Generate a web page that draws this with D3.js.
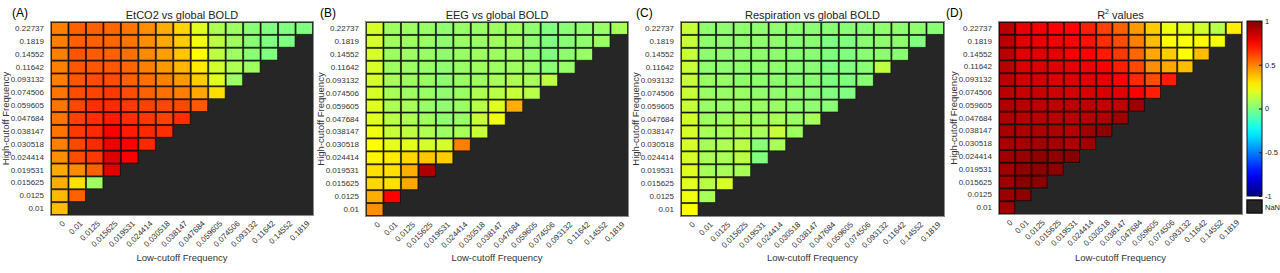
<!DOCTYPE html>
<html>
<head>
<meta charset="utf-8">
<script src="https://cdn.jsdelivr.net/npm/d3@7"></script>
<style>
  body { margin: 0; background: #fff; font-family: "Liberation Sans", Arial, sans-serif; }
</style>
</head>
<body>
<div id="chart"></div>
<script>
// tick labels
const lowCut = ["0", "0.01", "0.0125", "0.015625", "0.019531", "0.024414", "0.030518", "0.038147",
    "0.047684", "0.059605", "0.074506", "0.093132", "0.11642", "0.14552", "0.1819"]
// bottom to top
const highCut = ["0.01", "0.0125", "0.015625", "0.019531", "0.024414", "0.030518", "0.038147", "0.047684",
    "0.059605", "0.074506", "0.093132", "0.11642", "0.14552", "0.1819", "0.22737"]

// rows listed from the top row (0.22737) down to 0.01, first value = low-cutoff 0
const etco2 = [
    [0.5, 0.56, 0.56, 0.55, 0.52, 0.47, 0.41, 0.33, 0.19, 0.09, 0.06, 0.02, 0.0, 0.0, 0.0],
    [0.5, 0.56, 0.56, 0.55, 0.52, 0.47, 0.42, 0.35, 0.23, 0.12, 0.06, 0.02, 0.0, 0.0],
    [0.5, 0.58, 0.57, 0.56, 0.53, 0.48, 0.44, 0.36, 0.25, 0.12, 0.06, 0.02, 0.0],
    [0.5, 0.58, 0.58, 0.58, 0.55, 0.5, 0.45, 0.39, 0.29, 0.16, 0.09, 0.06],
    [0.5, 0.58, 0.6, 0.6, 0.56, 0.53, 0.5, 0.45, 0.35, 0.19, 0.06],
    [0.52, 0.6, 0.62, 0.64, 0.6, 0.56, 0.53, 0.5, 0.42, 0.31],
    [0.52, 0.61, 0.66, 0.67, 0.64, 0.62, 0.61, 0.61, 0.58],
    [0.52, 0.62, 0.66, 0.7, 0.66, 0.64, 0.62, 0.66],
    [0.52, 0.64, 0.67, 0.75, 0.7, 0.67, 0.66],
    [0.5, 0.61, 0.67, 0.78, 0.75, 0.67],
    [0.47, 0.6, 0.64, 0.81, 0.75],
    [0.42, 0.48, 0.56, 0.8],
    [0.41, 0.31, 0.06],
    [0.39, 0.56],
    [0.38]
]

const eeg = [
    [0.17, 0.06, 0.06, 0.05, 0.03, 0.05, 0.05, 0.06, 0.06, 0.03, 0.0, 0.02, 0.03, 0.05, 0.08],
    [0.17, 0.06, 0.06, 0.05, 0.03, 0.05, 0.05, 0.06, 0.06, 0.03, 0.0, 0.02, 0.03, 0.05],
    [0.17, 0.06, 0.06, 0.05, 0.03, 0.05, 0.06, 0.06, 0.06, 0.03, 0.0, 0.03, 0.05],
    [0.17, 0.06, 0.06, 0.05, 0.03, 0.05, 0.06, 0.06, 0.06, 0.05, 0.02, 0.05],
    [0.17, 0.08, 0.06, 0.05, 0.03, 0.05, 0.06, 0.08, 0.09, 0.08, 0.12],
    [0.17, 0.08, 0.06, 0.05, 0.03, 0.05, 0.09, 0.11, 0.14, 0.11],
    [0.19, 0.09, 0.08, 0.05, 0.03, 0.05, 0.11, 0.19, 0.41],
    [0.19, 0.11, 0.09, 0.06, 0.03, 0.05, 0.14, 0.22],
    [0.22, 0.14, 0.12, 0.09, 0.06, 0.08, 0.14],
    [0.25, 0.2, 0.2, 0.17, 0.17, 0.5],
    [0.27, 0.29, 0.33, 0.36, 0.35],
    [0.31, 0.31, 0.41, 0.91],
    [0.33, 0.31, 0.42],
    [0.41, 0.75],
    [0.47]
]

const respiration = [
    [0.14, 0.03, 0.03, 0.03, 0.03, 0.03, 0.03, 0.02, 0.02, 0.02, 0.02, 0.03, 0.03, 0.03, 0.02],
    [0.14, 0.03, 0.03, 0.03, 0.03, 0.03, 0.02, 0.02, 0.0, 0.0, 0.02, 0.03, 0.03, 0.0],
    [0.14, 0.03, 0.03, 0.03, 0.03, 0.03, 0.02, 0.02, 0.0, 0.0, 0.02, 0.03, 0.02],
    [0.14, 0.03, 0.03, 0.03, 0.03, 0.03, 0.02, 0.02, 0.0, 0.0, 0.02, 0.12],
    [0.14, 0.05, 0.05, 0.03, 0.03, 0.03, 0.02, 0.02, 0.0, 0.0, 0.02],
    [0.14, 0.05, 0.05, 0.05, 0.03, 0.03, 0.03, 0.02, 0.0, 0.0],
    [0.14, 0.05, 0.05, 0.05, 0.05, 0.05, 0.03, 0.03, 0.02],
    [0.16, 0.06, 0.06, 0.08, 0.06, 0.08, 0.05, 0.08],
    [0.17, 0.08, 0.08, 0.09, 0.08, 0.14, 0.06],
    [0.17, 0.08, 0.09, 0.11, 0.02, 0.08],
    [0.17, 0.08, 0.08, 0.11, 0.0],
    [0.19, 0.08, 0.08, 0.08],
    [0.19, 0.11, 0.17],
    [0.22, 0.08],
    [0.25]
]

const rSquared = [
    [0.89, 0.79, 0.77, 0.75, 0.74, 0.69, 0.62, 0.56, 0.45, 0.35, 0.22, 0.19, 0.16, 0.11, 0.28],
    [0.89, 0.8, 0.79, 0.77, 0.75, 0.72, 0.66, 0.6, 0.5, 0.38, 0.25, 0.24, 0.26, 0.23],
    [0.89, 0.81, 0.81, 0.8, 0.77, 0.75, 0.7, 0.64, 0.55, 0.42, 0.35, 0.25, 0.38],
    [0.89, 0.82, 0.82, 0.81, 0.8, 0.78, 0.75, 0.69, 0.61, 0.47, 0.42, 0.38],
    [0.89, 0.84, 0.84, 0.82, 0.82, 0.81, 0.8, 0.75, 0.67, 0.6, 0.7],
    [0.89, 0.86, 0.86, 0.84, 0.84, 0.83, 0.83, 0.8, 0.75, 0.69],
    [0.91, 0.89, 0.88, 0.88, 0.88, 0.88, 0.87, 0.87, 0.94],
    [0.91, 0.89, 0.89, 0.89, 0.89, 0.9, 0.91, 0.94],
    [0.92, 0.91, 0.91, 0.91, 0.89, 0.94, 0.97],
    [0.92, 0.92, 0.93, 0.93, 0.91, 0.94],
    [0.94, 0.95, 0.97, 0.97, 0.98],
    [0.94, 0.97, 0.98, 0.98],
    [0.94, 0.98, 0.98],
    [0.95, 0.97],
    [0.94]
]

const panelLabels = ["(A)", "(B)", "(C)", "(D)"]
const panelTitles = ["EtCO2 vs global BOLD", "EEG vs global BOLD", "Respiration vs global BOLD", "R2 values"]
const colorTicks = [1, 0.5, 0, -0.5, -1]

const width = 1280, height = 273

const svg = d3.select("#chart")
    .append("svg")
    .attr("width", width)
    .attr("height", height)

// jet colormap, value in [-1, 1]
function jet(v) {
    const t = (v + 1) / 2
    const c = x => Math.round(255 * Math.max(0, Math.min(1, 1.5 - Math.abs(4 * t - x))))
    return `rgb(${c(3)},${c(2)},${c(1)})`
}

// plot boxes [left, right, top, bottom], label x
const boxes = [
    { x0: 51, x1: 313, y0: 22, y1: 215, lx: 12 },
    { x0: 366, x1: 628, y0: 22, y1: 216, lx: 320 },
    { x0: 681, x1: 944, y0: 22, y1: 216, lx: 636 },
    { x0: 999, x1: 1242, y0: 22, y1: 214, lx: 946 }
]
const datasets = [etco2, eeg, respiration, rSquared]

datasets.forEach(function (rows, p) {
    const b = boxes[p]
    const x = d3.scaleBand().domain(lowCut).range([b.x0, b.x1])
    const y = d3.scaleBand().domain(highCut.slice().reverse()).range([b.y0, b.y1])

    const g = svg.append("g")

    // NaN background
    g.append("rect")
        .attr("x", b.x0).attr("y", b.y0)
        .attr("width", b.x1 - b.x0).attr("height", b.y1 - b.y0)
        .attr("fill", "#262626")

    const cells = []
    rows.forEach(function (row, r) {
        row.forEach(function (v, l) {
            cells.push({ hi: highCut[14 - r], lo: lowCut[l], v: v })
        })
    })

    g.selectAll("rect.cell")
        .data(cells)
        .enter()
        .append("rect")
        .attr("class", "cell")
        .attr("x", d => x(d.lo) + 0.5)
        .attr("y", d => y(d.hi) + 0.5)
        .attr("width", x.bandwidth() - 1)
        .attr("height", y.bandwidth() - 1)
        .attr("fill", d => jet(d.v))
        .attr("stroke", "rgba(0,0,0,0.6)")
        .attr("stroke-width", 1)

    // frame
    g.append("rect")
        .attr("x", b.x0 - 0.5).attr("y", b.y0 - 0.5)
        .attr("width", b.x1 - b.x0 + 1).attr("height", b.y1 - b.y0 + 1)
        .attr("fill", "none")
        .attr("stroke", "#8c8c8c")

    // y axis
    const ya = g.append("g")
        .attr("transform", `translate(${b.x0},0)`)
        .call(d3.axisLeft(y).tickSize(0).tickPadding(7))
    ya.select(".domain").remove()
    ya.selectAll("text")
        .attr("font-size", 8)
        .attr("font-family", "Liberation Sans, Arial, sans-serif")
        .attr("fill", "#333")

    // x axis
    const xa = g.append("g")
        .attr("transform", `translate(0,${b.y1})`)
        .call(d3.axisBottom(x).tickSize(0))
    xa.select(".domain").remove()
    xa.selectAll("text")
        .attr("x", 0).attr("y", 0).attr("dy", "0.35em")
        .attr("text-anchor", "end")
        .attr("transform", "translate(4,7) rotate(-45)")
        .attr("font-size", 8)
        .attr("font-family", "Liberation Sans, Arial, sans-serif")
        .attr("fill", "#333")

    // axis titles
    g.append("text")
        .attr("x", (b.x0 + b.x1) / 2)
        .attr("y", 261)
        .attr("text-anchor", "middle")
        .attr("font-size", 9.5)
        .attr("fill", "#333")
        .text("Low-cutoff Frequency")

    g.append("text")
        .attr("transform", `translate(${b.x0 - 42},${(b.y0 + b.y1) / 2}) rotate(-90)`)
        .attr("text-anchor", "middle")
        .attr("font-size", 9.5)
        .attr("fill", "#333")
        .text("High-cutoff Frequency")

    // title
    const title = g.append("text")
        .attr("x", (b.x0 + b.x1) / 2)
        .attr("y", 19)
        .attr("text-anchor", "middle")
        .attr("font-size", 11)
        .attr("fill", "#222")
    if (p === 3) {
        title.append("tspan").text("R")
        title.append("tspan").attr("font-size", 7).attr("dy", -5).text("2")
        title.append("tspan").attr("dy", 5).text(" values")
    } else {
        title.text(panelTitles[p])
    }

    // panel label
    svg.append("text")
        .attr("x", b.lx)
        .attr("y", 17)
        .attr("font-size", 12)
        .attr("fill", "#000")
        .text(panelLabels[p])
})

// colorbar
const cb = { x: 1247, w: 15, y0: 21, y1: 196 }
const defs = svg.append("defs")
const grad = defs.append("linearGradient")
    .attr("id", "jetgrad")
    .attr("x1", 0).attr("y1", 1).attr("x2", 0).attr("y2", 0)
d3.range(0, 1.0001, 0.05).forEach(function (t) {
    grad.append("stop").attr("offset", t).attr("stop-color", jet(2 * t - 1))
})
svg.append("rect")
    .attr("x", cb.x).attr("y", cb.y0)
    .attr("width", cb.w).attr("height", cb.y1 - cb.y0)
    .attr("fill", "url(#jetgrad)")
    .attr("stroke", "#111")
    .attr("stroke-width", 1)

const cScale = d3.scaleLinear().domain([-1, 1]).range([cb.y1, cb.y0])
const ca = svg.append("g")
    .attr("transform", `translate(${cb.x + cb.w},0)`)
    .call(d3.axisRight(cScale).tickValues(colorTicks).tickSizeInner(-3).tickSizeOuter(0)
        .tickPadding(3).tickFormat(d => String(d)))
ca.select(".domain").remove()
ca.selectAll("line").attr("stroke", "#111")
ca.selectAll("text")
    .attr("font-size", 7.5)
    .attr("font-family", "Liberation Sans, Arial, sans-serif")
    .attr("fill", "#222")

svg.append("rect")
    .attr("x", cb.x).attr("y", 200)
    .attr("width", cb.w).attr("height", 13)
    .attr("fill", "#262626")
    .attr("stroke", "#111")
    .attr("stroke-width", 1.5)
svg.append("text")
    .attr("x", cb.x + cb.w + 3)
    .attr("y", 207)
    .attr("dy", "0.35em")
    .attr("font-size", 7.5)
    .attr("fill", "#222")
    .text("NaN")
</script>
</body>
</html>
